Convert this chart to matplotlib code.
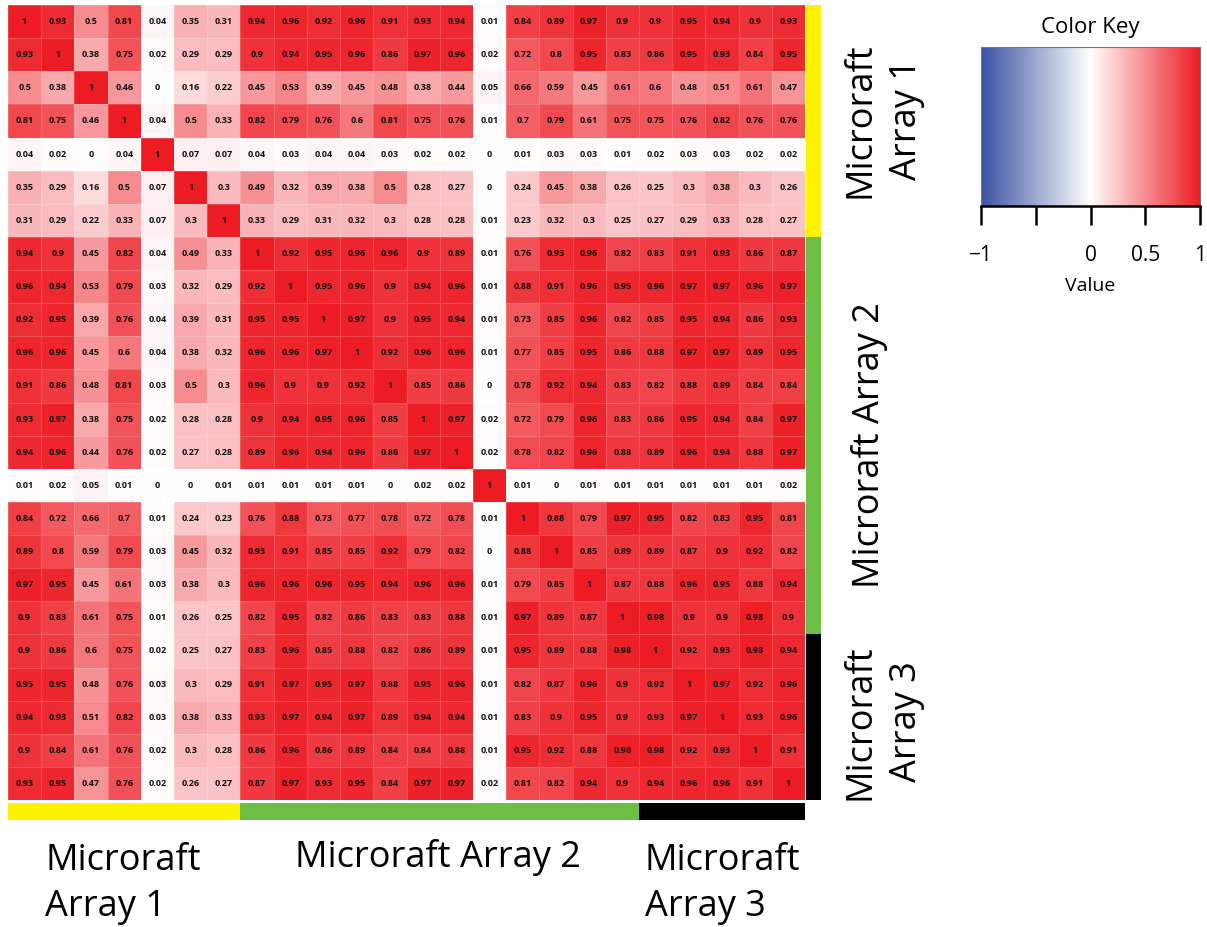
import matplotlib
matplotlib.use("Agg")
import matplotlib.pyplot as plt
import numpy as np
from matplotlib.colors import LinearSegmentedColormap

# correlation matrix, rows/cols in the same order
corr = [
    [1, 0.93, 0.5, 0.81, 0.04, 0.35, 0.31, 0.94, 0.96, 0.92, 0.96, 0.91, 0.93, 0.94, 0.01, 0.84, 0.89, 0.97, 0.9, 0.9, 0.95, 0.94, 0.9, 0.93],
    [0.93, 1, 0.38, 0.75, 0.02, 0.29, 0.29, 0.9, 0.94, 0.95, 0.96, 0.86, 0.97, 0.96, 0.02, 0.72, 0.8, 0.95, 0.83, 0.86, 0.95, 0.93, 0.84, 0.95],
    [0.5, 0.38, 1, 0.46, 0, 0.16, 0.22, 0.45, 0.53, 0.39, 0.45, 0.48, 0.38, 0.44, 0.05, 0.66, 0.59, 0.45, 0.61, 0.6, 0.48, 0.51, 0.61, 0.47],
    [0.81, 0.75, 0.46, 1, 0.04, 0.5, 0.33, 0.82, 0.79, 0.76, 0.6, 0.81, 0.75, 0.76, 0.01, 0.7, 0.79, 0.61, 0.75, 0.75, 0.76, 0.82, 0.76, 0.76],
    [0.04, 0.02, 0, 0.04, 1, 0.07, 0.07, 0.04, 0.03, 0.04, 0.04, 0.03, 0.02, 0.02, 0, 0.01, 0.03, 0.03, 0.01, 0.02, 0.03, 0.03, 0.02, 0.02],
    [0.35, 0.29, 0.16, 0.5, 0.07, 1, 0.3, 0.49, 0.32, 0.39, 0.38, 0.5, 0.28, 0.27, 0, 0.24, 0.45, 0.38, 0.26, 0.25, 0.3, 0.38, 0.3, 0.26],
    [0.31, 0.29, 0.22, 0.33, 0.07, 0.3, 1, 0.33, 0.29, 0.31, 0.32, 0.3, 0.28, 0.28, 0.01, 0.23, 0.32, 0.3, 0.25, 0.27, 0.29, 0.33, 0.28, 0.27],
    [0.94, 0.9, 0.45, 0.82, 0.04, 0.49, 0.33, 1, 0.92, 0.95, 0.96, 0.96, 0.9, 0.89, 0.01, 0.76, 0.93, 0.96, 0.82, 0.83, 0.91, 0.93, 0.86, 0.87],
    [0.96, 0.94, 0.53, 0.79, 0.03, 0.32, 0.29, 0.92, 1, 0.95, 0.96, 0.9, 0.94, 0.96, 0.01, 0.88, 0.91, 0.96, 0.95, 0.96, 0.97, 0.97, 0.96, 0.97],
    [0.92, 0.95, 0.39, 0.76, 0.04, 0.39, 0.31, 0.95, 0.95, 1, 0.97, 0.9, 0.95, 0.94, 0.01, 0.73, 0.85, 0.96, 0.82, 0.85, 0.95, 0.94, 0.86, 0.93],
    [0.96, 0.96, 0.45, 0.6, 0.04, 0.38, 0.32, 0.96, 0.96, 0.97, 1, 0.92, 0.96, 0.96, 0.01, 0.77, 0.85, 0.95, 0.86, 0.88, 0.97, 0.97, 0.89, 0.95],
    [0.91, 0.86, 0.48, 0.81, 0.03, 0.5, 0.3, 0.96, 0.9, 0.9, 0.92, 1, 0.85, 0.86, 0, 0.78, 0.92, 0.94, 0.83, 0.82, 0.88, 0.89, 0.84, 0.84],
    [0.93, 0.97, 0.38, 0.75, 0.02, 0.28, 0.28, 0.9, 0.94, 0.95, 0.96, 0.85, 1, 0.97, 0.02, 0.72, 0.79, 0.96, 0.83, 0.86, 0.95, 0.94, 0.84, 0.97],
    [0.94, 0.96, 0.44, 0.76, 0.02, 0.27, 0.28, 0.89, 0.96, 0.94, 0.96, 0.86, 0.97, 1, 0.02, 0.78, 0.82, 0.96, 0.88, 0.89, 0.96, 0.94, 0.88, 0.97],
    [0.01, 0.02, 0.05, 0.01, 0, 0, 0.01, 0.01, 0.01, 0.01, 0.01, 0, 0.02, 0.02, 1, 0.01, 0, 0.01, 0.01, 0.01, 0.01, 0.01, 0.01, 0.02],
    [0.84, 0.72, 0.66, 0.7, 0.01, 0.24, 0.23, 0.76, 0.88, 0.73, 0.77, 0.78, 0.72, 0.78, 0.01, 1, 0.88, 0.79, 0.97, 0.95, 0.82, 0.83, 0.95, 0.81],
    [0.89, 0.8, 0.59, 0.79, 0.03, 0.45, 0.32, 0.93, 0.91, 0.85, 0.85, 0.92, 0.79, 0.82, 0, 0.88, 1, 0.85, 0.89, 0.89, 0.87, 0.9, 0.92, 0.82],
    [0.97, 0.95, 0.45, 0.61, 0.03, 0.38, 0.3, 0.96, 0.96, 0.96, 0.95, 0.94, 0.96, 0.96, 0.01, 0.79, 0.85, 1, 0.87, 0.88, 0.96, 0.95, 0.88, 0.94],
    [0.9, 0.83, 0.61, 0.75, 0.01, 0.26, 0.25, 0.82, 0.95, 0.82, 0.86, 0.83, 0.83, 0.88, 0.01, 0.97, 0.89, 0.87, 1, 0.98, 0.9, 0.9, 0.98, 0.9],
    [0.9, 0.86, 0.6, 0.75, 0.02, 0.25, 0.27, 0.83, 0.96, 0.85, 0.88, 0.82, 0.86, 0.89, 0.01, 0.95, 0.89, 0.88, 0.98, 1, 0.92, 0.93, 0.98, 0.94],
    [0.95, 0.95, 0.48, 0.76, 0.03, 0.3, 0.29, 0.91, 0.97, 0.95, 0.97, 0.88, 0.95, 0.96, 0.01, 0.82, 0.87, 0.96, 0.9, 0.92, 1, 0.97, 0.92, 0.96],
    [0.94, 0.93, 0.51, 0.82, 0.03, 0.38, 0.33, 0.93, 0.97, 0.94, 0.97, 0.89, 0.94, 0.94, 0.01, 0.83, 0.9, 0.95, 0.9, 0.93, 0.97, 1, 0.93, 0.96],
    [0.9, 0.84, 0.61, 0.76, 0.02, 0.3, 0.28, 0.86, 0.96, 0.86, 0.89, 0.84, 0.84, 0.88, 0.01, 0.95, 0.92, 0.88, 0.98, 0.98, 0.92, 0.93, 1, 0.91],
    [0.93, 0.95, 0.47, 0.76, 0.02, 0.26, 0.27, 0.87, 0.97, 0.93, 0.95, 0.84, 0.97, 0.97, 0.02, 0.81, 0.82, 0.94, 0.9, 0.94, 0.96, 0.96, 0.91, 1],
]

group_names = ["Microraft\nArray 1", "Microraft Array 2", "Microraft\nArray 3"]
group_sizes = [7, 12, 5]
group_colors = ["#FFF200", "#6CBE45", "#000000"]

key_ticks = [-1, -0.5, 0, 0.5, 1]
key_labels = ["\u22121", "", "0", "0.5", "1"]

plt.rcParams['font.family'] = ['Open Sans', 'DejaVu Sans']

W, H = 1207, 927
cmap = LinearSegmentedColormap.from_list("bwr_key", ["#3A53A4", "#FFFFFF", "#ED1C24"])


def box(x0, y0, x1, y1):
    # pixel box (top-left origin) -> figure fraction rect
    return [x0 / W, 1 - y1 / H, (x1 - x0) / W, (y1 - y0) / H]


def px(x, y):
    return x / W, 1 - y / H


fig = plt.figure(figsize=(W / 100, H / 100), dpi=100)

# main heatmap
data = np.array(corr, dtype=float)
n = data.shape[0]
ax = fig.add_axes(box(8, 5, 805, 800))
ax.pcolormesh(np.arange(n + 1), np.arange(n + 1), data, cmap=cmap,
              vmin=-1, vmax=1, edgecolors=(1, 1, 1, 0.18), linewidth=0.6)
for i in range(n):
    for j in range(n):
        ax.text(j + 0.5, i + 0.5, "{:g}".format(data[i, j]), ha='center',
                va='center', fontsize=6.6, fontweight='bold', color='#111111')
ax.set_xlim(0, n)
ax.set_ylim(n, 0)
ax.set_xticks([])
ax.set_yticks([])
for s in ax.spines.values():
    s.set_visible(False)

# group side bars
bounds = np.concatenate([[0], np.cumsum(group_sizes)])
axr = fig.add_axes(box(806, 5, 821, 800))
axb = fig.add_axes(box(8, 803, 805, 820))
for k in range(len(group_sizes)):
    axr.bar(0.5, group_sizes[k], bottom=bounds[k], width=1,
            color=group_colors[k], linewidth=0)
    axb.barh(0.5, group_sizes[k], left=bounds[k], height=1,
             color=group_colors[k], linewidth=0)
axr.set_xlim(0, 1)
axr.set_ylim(n, 0)
axb.set_xlim(0, n)
axb.set_ylim(0, 1)
for a in (axr, axb):
    a.set_axis_off()

# group labels
lab_kw = dict(fontsize=26, color='black', linespacing=1.38)
fig.text(*px(884, 120), group_names[0], rotation=90, ha='center', va='center', **lab_kw)
fig.text(*px(870, 445), group_names[1], rotation=90, ha='center', va='center', **lab_kw)
fig.text(*px(884, 722), group_names[2], rotation=90, ha='center', va='center', **lab_kw)
fig.text(*px(45, 884), group_names[0], ha='left', va='center', **lab_kw)
fig.text(*px(438, 858), group_names[1], ha='center', va='center', **lab_kw)
fig.text(*px(645, 884), group_names[2], ha='left', va='center', **lab_kw)

# color key
axk = fig.add_axes(box(981, 47, 1200, 206))
grad = np.linspace(-1, 1, 256)[None, :]
axk.imshow(grad, cmap=cmap, vmin=-1, vmax=1, aspect='auto',
           extent=[-1, 1, 0, 1])
axk.set_xlim(-1, 1)
axk.set_ylim(0, 1)
axk.set_yticks([])
axk.set_xticks(key_ticks)
axk.set_xticklabels(key_labels, fontsize=15)
axk.tick_params(axis='x', length=14, width=1.8, pad=14)
for s in ('top', 'left', 'right'):
    axk.spines[s].set_color('#777777')
    axk.spines[s].set_linewidth(0.8)
axk.spines['bottom'].set_linewidth(1.8)
axk.set_xlabel("Value", fontsize=14, labelpad=8)
axk.set_title("Color Key", fontsize=16, pad=10)

fig.savefig("out.png", dpi=100)
